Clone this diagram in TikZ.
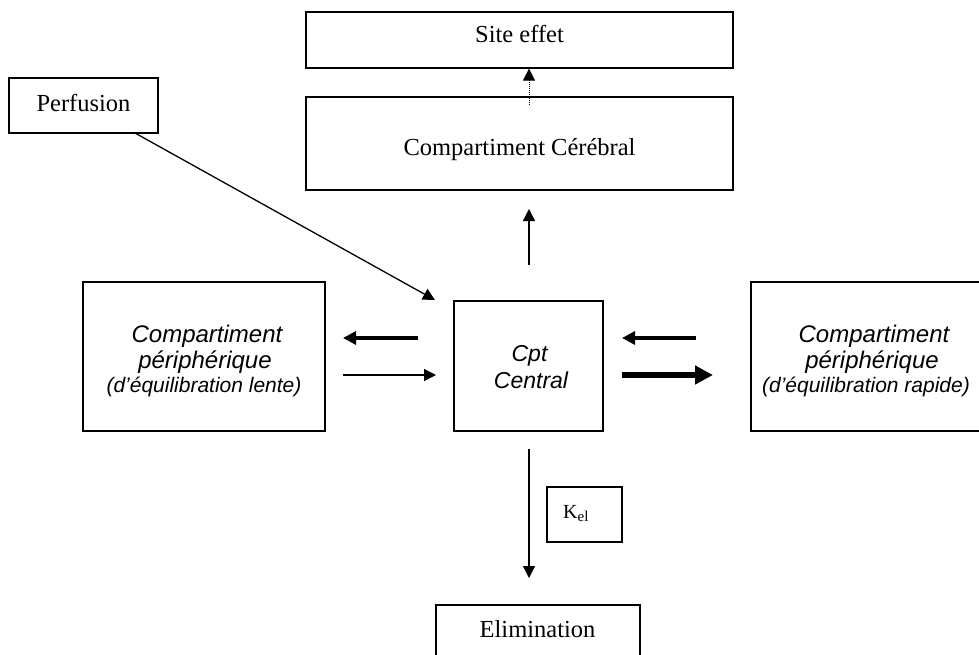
\documentclass[tikz,border=0pt]{standalone}
\usepackage{fontspec}
\setmainfont{Liberation Serif}
\setsansfont{Liberation Sans}
\usetikzlibrary{arrows.meta}
\begin{document}
\begin{tikzpicture}[x=1pt,y=-1pt,
  boxst/.style={draw=black, line width=1.2pt, inner sep=0pt},
  serift/.style={font=\fontsize{24.5}{28}\selectfont, inner sep=0pt, anchor=base},
  sanst/.style={font=\sffamily\itshape\fontsize{24}{28}\selectfont, inner sep=0pt, anchor=base},
  subt/.style={font=\sffamily\itshape\fontsize{21}{24}\selectfont, inner sep=0pt, anchor=base},
  thinarrow/.style={line width=1.3pt, -{Triangle[length=12pt,width=12pt]}},
  midarrow/.style={line width=3.3pt, -{Triangle[length=13pt,width=13pt]}},
  thickarrow/.style={line width=6pt, -{Triangle[length=18pt,width=18pt]}},
  dotarrow/.style={line width=1pt, dash pattern=on 1pt off 1pt, -{Triangle[length=12pt,width=12pt]}}]
\clip (0,0) rectangle (979,655);
\fill[white] (0,0) rectangle (979,655);

% boxes
\node[boxst, minimum width=427pt, minimum height=56pt] (site) at (519.5,40) {};
\node[boxst, minimum width=427pt, minimum height=93pt] (cereb) at (519.5,143.5) {};
\node[boxst, minimum width=149pt, minimum height=55pt] (perf) at (83.5,105.5) {};
\node[boxst, minimum width=242pt, minimum height=149pt] (lbox) at (204,356.5) {};
\node[boxst, minimum width=149pt, minimum height=130pt] (central) at (528.5,366) {};
\node[boxst, minimum width=246pt, minimum height=149pt] (rbox) at (874,356.5) {};
\node[boxst, minimum width=75pt, minimum height=55pt] (kel) at (584.5,514.5) {};
\node[boxst, minimum width=204pt, minimum height=55pt] (elim) at (538,632.5) {};

% texts
\node[serift] (siteT) at (519.5,43) {Site effet};
\node[serift] (cerebT) at (519.5,156) {Compartiment Cérébral};
\node[serift] (perfT) at (83.5,112) {Perfusion};
\node[sanst] (lT1) at (207,342) {Compartiment};
\node[sanst] (lT2) at (205,368) {périphérique};
\node[subt] (lT3) at (204,392) {(d’équilibration lente)};
\node[sanst] (rT1) at (874,342) {Compartiment};
\node[sanst] (rT2) at (872,368) {périphérique};
\node[subt] (rT3) at (866,392) {(d’équilibration rapide)};
\node[sanst, font=\sffamily\itshape\fontsize{23}{28}\selectfont] (cT1) at (529.5,361) {Cpt};
\node[sanst, font=\sffamily\itshape\fontsize{23}{28}\selectfont] (cT2) at (531,388) {Central};
\node[inner sep=0pt, anchor=base west, font=\fontsize{20}{24}\selectfont] (kelT) at (563,518) {K{\fontsize{15}{16}\selectfont\raisebox{-3pt}{el}}};
\node[serift] (elimT) at (537.5,637) {Elimination};

% connector end points
\coordinate (dotS) at (529,105);
\coordinate (upS) at (529,265);
\coordinate (upE) at (529,209);
\coordinate (downS) at (529,449);
\coordinate (downE) at (529,578);
\coordinate (perfS) at (135,133);
\coordinate (perfE) at (435,300);
\coordinate (lAs) at (418,338);
\coordinate (lAe) at (343,338);
\coordinate (lBs) at (343,375);
\coordinate (lBe) at (436,375);
\coordinate (rAs) at (696,338);
\coordinate (rAe) at (622,338);
\coordinate (rBs) at (622,375);
\coordinate (rBe) at (713,375);

% connectors
\draw[dotarrow] (dotS) -- (dotS |- site.south);
\draw[thinarrow] (upS) -- (upE);
\draw[thinarrow] (downS) -- (downE);
\draw[thinarrow] (perfS) -- (perfE);
\draw[midarrow] (lAs) -- (lAe);
\draw[thinarrow] (lBs) -- (lBe);
\draw[midarrow] (rAs) -- (rAe);
\draw[thickarrow] (rBs) -- (rBe);
\end{tikzpicture}
\end{document}
